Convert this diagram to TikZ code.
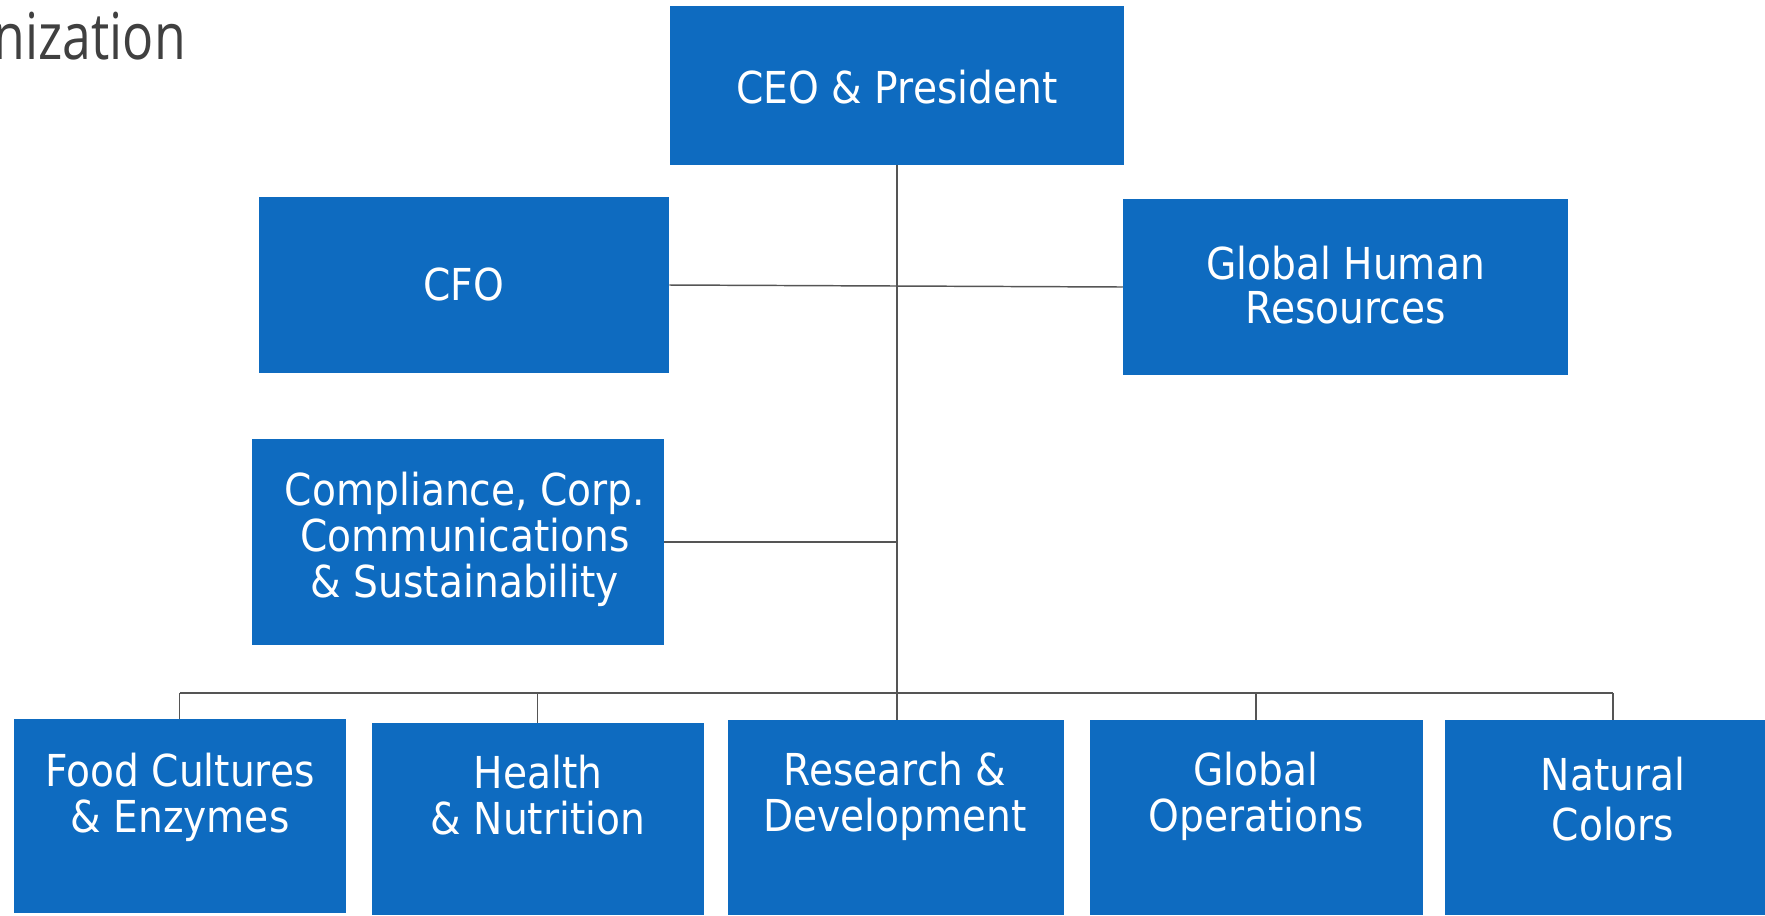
\documentclass[tikz,border=0pt]{standalone}
\usepackage{fontspec}
\newfontfamily\boxfont[FakeStretch=0.89]{DejaVu Sans}
\newfontfamily\titlefont[FakeStretch=0.8]{Open Sans}
\usetikzlibrary{calc}
\definecolor{boxblue}{RGB}{14,107,192}
\definecolor{linegray}{RGB}{85,85,85}
\definecolor{titlegray}{RGB}{64,64,64}
\begin{document}
\begin{tikzpicture}[x=0.75pt,y=-0.75pt,
  box/.style={fill=boxblue, draw=none, inner sep=0pt, rectangle},
  lbl/.style={text=white, font=\boxfont\fontsize{33}{34.5}\selectfont, align=center, inner sep=0pt},
  conn/.style={draw=linegray, line width=1.1pt}]
\useasboundingbox (0,0) rectangle (1765,915);
\clip (0,0) rectangle (1765,915);

% title fragment
\node[anchor=base east, inner sep=0pt, text=titlegray, font=\titlefont\fontsize{48.5}{50}\selectfont] (title) at (186,59) {nization};

% boxes
\node[box, minimum width=340.5pt, minimum height=119.25pt] (ceo) at (897,85.5) {};
\node[box, minimum width=307.5pt, minimum height=132pt] (cfo) at (464,285) {};
\node[box, minimum width=333.75pt, minimum height=132pt] (ghr) at (1345.5,287) {};
\node[box, minimum width=309pt, minimum height=154.5pt] (comp) at (458,542) {};
\node[box, minimum width=249pt, minimum height=145.5pt] (food) at (179.5,816) {};
\node[box, minimum width=249pt, minimum height=144pt] (health) at (537.5,819) {};
\node[box, minimum width=252pt, minimum height=146.25pt] (rd) at (895.5,817.5) {};
\node[box, minimum width=249.75pt, minimum height=146.25pt] (ops) at (1256,817.5) {};
\node[box, minimum width=252pt, minimum height=146.25pt] (nat) at (1613,817.5) {};

% labels
\node[lbl, anchor=base] (ceoT) at (897,103) {CEO \& President};
\node[lbl, anchor=base] (cfoT) at (464,300) {CFO};
\node[lbl, anchor=north, font=\boxfont\fontsize{33}{33}\selectfont] (ghrT) at (1345.5,245.6) {Global Human\\Resources};
\node[lbl, anchor=north] (compT) at (465,471.6) {Compliance, Corp.\\Communications\\\& Sustainability};
\node[lbl, anchor=north] (foodT) at (180,752.6) {Food Cultures\\\& Enzymes};
\node[lbl, anchor=north] (healthT) at (538,754.6) {Health\\\& Nutrition};
\node[lbl, anchor=north] (rdT) at (895,751.6) {Research \&\\Development};
\node[lbl, anchor=north] (opsT) at (1256,751.6) {Global\\Operations};
\node[lbl, anchor=north, font=\boxfont\fontsize{33}{37.5}\selectfont] (natT) at (1613,756.6) {Natural\\Colors};

% connectors
\coordinate (bus) at (0,693);
\draw[conn] (ceo.south) -- (ceo.south |- rd.north);
\draw[conn] (cfo.east) -- (ghr.west);
\draw[conn] (comp.east) -- (comp.east -| ceo.south);
\draw[conn] (food.north |- bus) -- (nat.north |- bus);
\draw[conn] (food.north) -- (food.north |- bus);
\draw[conn] (health.north) -- (health.north |- bus);
\draw[conn] (ops.north) -- (ops.north |- bus);
\draw[conn] (nat.north) -- (nat.north |- bus);
\end{tikzpicture}
\end{document}
